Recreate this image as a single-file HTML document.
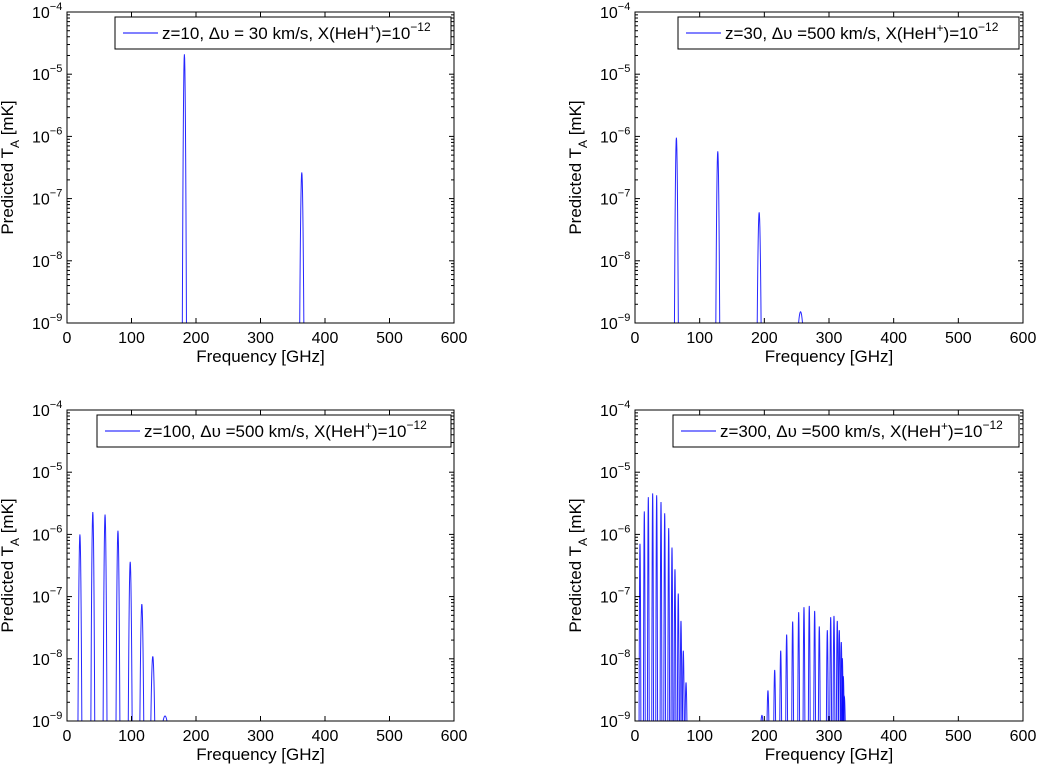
<!DOCTYPE html>
<html><head><meta charset="utf-8">
<style>
body{margin:0;background:#fff;}
svg{display:block;font-family:"Liberation Sans",sans-serif;}
</style></head>
<body>
<svg id="fig" width="1039" height="765" viewBox="0 0 1039 765"></svg>
<script>
// Panel data: peak frequencies (GHz) and log10 peak heights (mK)
const tlFreq = [182, 364];
const tlLog = [-4.68, -6.58];
const trFreq = [64, 128, 192, 256];
const trLog = [-6.02, -6.24, -7.22, -8.82];
const blFreq = [20, 40, 59, 79, 98, 116, 133, 152];
const blLog = [-6.0, -5.64, -5.68, -5.94, -6.44, -7.12, -7.96, -8.92];
const brFreq = [7.7,14.4,20.6,27.3,33.5,40.2,45.9,52.1,57.2,61.8,66.9,71.1,74.7,78.9,
  196.3,205.6,216,225.3,234.5,243.8,253.1,261.3,269.5,277.8,285,297.4,302.6,307.7,312.8,315.9,319,320.6,322.1,323.7];
const brLog = [-6.15,-5.63,-5.40,-5.34,-5.37,-5.48,-5.66,-5.90,-6.21,-6.56,-6.95,-7.39,-7.87,-8.38,
  -8.91,-8.51,-8.18,-7.87,-7.61,-7.40,-7.25,-7.17,-7.15,-7.23,-7.48,-7.54,-7.33,-7.31,-7.39,-7.54,-7.73,-7.99,-8.28,-8.61];
const xTicks = [0,100,200,300,400,500,600];
const yExps = [-4,-5,-6,-7,-8,-9];
const legends = ["z=10, Δυ = 30 km/s, X(HeH","z=30, Δυ =500 km/s, X(HeH","z=100, Δυ =500 km/s, X(HeH","z=300, Δυ =500 km/s, X(HeH"];

const NS="http://www.w3.org/2000/svg";
const svg=document.getElementById('fig');
function mk(tag,attrs,parent){const e=document.createElementNS(NS,tag);for(const k in attrs)e.setAttribute(k,attrs[k]);(parent||svg).appendChild(e);return e;}

const panels=[
 {name:'panel-z10',x0:67,x1:454,y0:12,y1:323,freq:tlFreq,lg:tlLog,w:3.2,leg:legends[0],lx:115,lw:336},
 {name:'panel-z30',x0:635,x1:1023,y0:12,y1:323,freq:trFreq,lg:trLog,w:3,leg:legends[1],lx:678,lw:341},
 {name:'panel-z100',x0:67,x1:454,y0:410,y1:721,freq:blFreq,lg:blLog,w:3,leg:legends[2],lx:97,lw:354},
 {name:'panel-z300',x0:635,x1:1023,y0:410,y1:721,freq:brFreq,lg:brLog,w:1.4,leg:legends[3],lx:673,lw:346}
];

panels.forEach(p=>{
 const g=mk('g',{});
 
 
 const X=f=>p.x0+(f-0)/600*(p.x1-p.x0);
 const Y=l=>p.y0+(-4-l)/5*(p.y1-p.y0);
 const sg=mk('g',{},g);
 
 
 p.freq.forEach((f,i)=>{
  const pk=p.lg[i];const h=pk+9;let d='';
  const n=8;
  for(let k=-n;k<=n;k++){const t=k/n;const fx=f+t*p.w;const l=pk-h*t*t;d+=(k==-n?'M':'L')+X(fx).toFixed(2)+','+Y(l).toFixed(2);}
  const path=mk('path',{d:d,fill:'none',stroke:'#0000ff','stroke-width':1,'stroke-opacity':0.85},sg);
  
  
 });
 const box=mk('rect',{x:p.x0,y:p.y0,width:p.x1-p.x0,height:p.y1-p.y0,fill:'none',stroke:'#000','stroke-width':1},g);
 
 
 xTicks.forEach(v=>{
  const x=X(v);
  mk('line',{x1:x,x2:x,y1:p.y1,y2:p.y1-5,stroke:'#000'},g);
  mk('line',{x1:x,x2:x,y1:p.y0,y2:p.y0+5,stroke:'#000'},g);
  const t=mk('text',{x:x,y:p.y1+20,'font-size':16,'text-anchor':'middle'},g);
  t.textContent=v;
  
  
 });
 yExps.forEach(e=>{
  const y=Y(e);
  mk('line',{x1:p.x0,x2:p.x0+5,y1:y,y2:y,stroke:'#000'},g);
  mk('line',{x1:p.x1,x2:p.x1-5,y1:y,y2:y,stroke:'#000'},g);
  if(e>-9){for(let m=2;m<=9;m++){const ym=Y(e-1+Math.log10(m));
   mk('line',{x1:p.x0,x2:p.x0+3,y1:ym,y2:ym,stroke:'#000'},g);
   mk('line',{x1:p.x1,x2:p.x1-3,y1:ym,y2:ym,stroke:'#000'},g);}}
  const t=mk('text',{x:p.x0-35,y:y+6,'font-size':16},g);
  
  
  t.textContent='10';
  const s=mk('tspan',{dy:-8,'font-size':11},t);s.textContent='−'+(-e);
 });
 const xl=mk('text',{x:(p.x0+p.x1)/2,y:p.y1+39,'font-size':17,'text-anchor':'middle'},g);
 xl.textContent='Frequency [GHz]';
 
 
 const yc=(p.y0+p.y1)/2;
 const yl=mk('text',{x:0,y:0,'font-size':17,'text-anchor':'middle',transform:`translate(${p.x0-54},${yc}) rotate(-90)`},g);
 
 
 yl.appendChild(document.createTextNode('Predicted T'));
 const sub=mk('tspan',{dy:6,'font-size':12},yl);sub.textContent='A';
 const rest=mk('tspan',{dy:-6},yl);rest.textContent=' [mK]';
 const lg=mk('g',{},g);
 
 
 mk('rect',{x:p.lx,y:p.y0+5,width:p.lw,height:32,fill:'#fff',stroke:'#000'},lg);
 mk('line',{x1:p.lx+8,x2:p.lx+43,y1:p.y0+21,y2:p.y0+21,stroke:'#0000ff'},lg);
 const lt=mk('text',{x:p.lx+47,y:p.y0+27,'font-size':17},lg);
 lt.appendChild(document.createTextNode(p.leg));
 const s1=mk('tspan',{dy:-7,'font-size':12},lt);s1.textContent='+';
 const s2=mk('tspan',{dy:7},lt);s2.textContent=')=10';
 const s3=mk('tspan',{dy:-8,'font-size':12},lt);s3.textContent='−12';
});
</script>
</body></html>
